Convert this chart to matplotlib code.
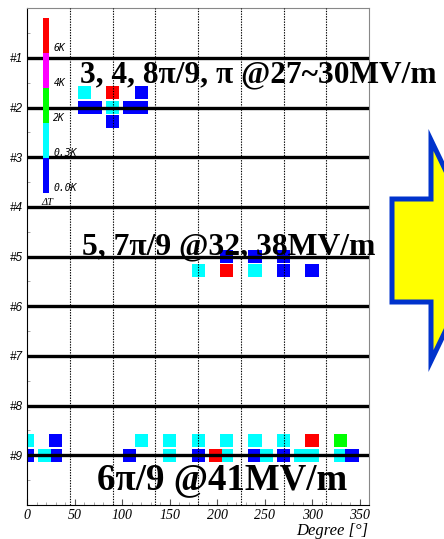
import numpy as np
import matplotlib
matplotlib.use("Agg")
import matplotlib.pyplot as plt
import matplotlib as mpl
from matplotlib.colors import ListedColormap, BoundaryNorm
from matplotlib.patches import Polygon

# mapa de temperatura por cavidad (#1..#9) y angulo
cavidades = ["#1", "#2", "#3", "#4", "#5", "#6", "#7", "#8", "#9"]

# cada sensor: cavidad, angulo [deg], fila (-1 arriba, 0 sobre la linea, 1 abajo), dT [K]
sensor_cav = [2, 2, 2, 2, 2, 2, 2, 2, 2,
              5, 5, 5, 5, 5, 5, 5, 5,
              9, 9, 9, 9, 9, 9, 9, 9, 9, 9,
              9, 9, 9, 9, 9, 9, 9, 9, 9,
              9, 9, 9, 9, 9, 9]
sensor_ang = [60, 90, 120, 60, 72, 90, 108, 120, 90,
              210, 240, 270, 180, 210, 240, 270, 300,
              0, 30, 120, 150, 180, 210, 240, 270, 300, 330,
              0, 30, 150, 180, 210, 240, 270, 300, 330,
              18, 108, 198, 252, 288, 342]
sensor_fila = [-1, -1, -1, 0, 0, 0, 0, 0, 1,
               0, 0, 0, 1, 1, 1, 1, 1,
               -1, -1, -1, -1, -1, -1, -1, -1, -1, -1,
               0, 0, 0, 0, 0, 0, 0, 0, 0,
               0, 0, 0, 0, 0, 0]
sensor_dT = [1.0, 7.0, 0.1, 0.1, 0.1, 1.0, 0.1, 0.1, 0.1,
             0.1, 0.1, 0.1, 1.0, 7.0, 1.0, 0.1, 0.1,
             1.0, 0.1, 1.0, 1.0, 1.0, 1.0, 1.0, 1.0, 7.0, 3.0,
             0.1, 0.1, 1.0, 0.1, 1.0, 0.1, 0.1, 1.0, 1.0,
             1.0, 0.1, 7.0, 1.0, 1.0, 0.1]

limites_dT = [0, 0.3, 2, 4, 6, 8]
etiquetas_dT = ["0.0K", "0.3K", "2K", "4K", "6K"]
colores = ["#0000ff", "#00ffff", "#00ff00", "#ff00ff", "#ff0000"]

textos = ["3, 4, 8π/9, π @27~30MV/m", "5, 7π/9 @32, 38MV/m", "6π/9 @41MV/m"]
textos_x = [55.4, 57.2, 73.3]
textos_y = [1.50, 4.96, 9.69]
textos_size = [22.6, 22.8, 26.6]

W, H = 444, 539
fig = plt.figure(figsize=(W / 100, H / 100), dpi=100)
ax = fig.add_axes([27.3 / W, 1 - 505 / H, (369 - 27.3) / W, (505 - 8.3) / H])

cmap = ListedColormap(colores)
norm = BoundaryNorm(limites_dT, cmap.N)

offs = {-1: -0.3, 0: 0.0, 1: 0.28}
alto = 0.27
for c, a, f, t in zip(sensor_cav, sensor_ang, sensor_fila, sensor_dT):
    ax.bar(a, alto, width=14, bottom=c + offs[f] - alto / 2,
           color=cmap(norm(t)), zorder=1)

for i in range(1, 10):
    ax.axhline(i, color="black", lw=2.4, zorder=3)
for a in range(45, 360, 45):
    ax.axvline(a, color="black", lw=0.8, ls=(0, (1.2, 1.2)), zorder=3)

ax.set_xlim(0, 360)
ax.set_ylim(10, 0)

ax.set_xticks(range(0, 351, 50))
ax.set_xticks(range(0, 361, 10), minor=True)
ax.set_xticklabels([str(v) for v in range(0, 351, 50)],
                   fontfamily="Liberation Serif", style="italic", fontsize=10)
ax.tick_params(axis="x", which="major", direction="in", length=4, width=0.8,
               color="#555555", pad=3)
ax.tick_params(axis="x", which="minor", direction="in", length=2, width=0.6,
               color="#999999")

ax.set_yticks(range(1, 10))
ax.set_yticklabels(cavidades, fontfamily="Liberation Sans", style="italic",
                   fontsize=8.5)
ax.set_yticks(np.arange(0.5, 10, 1), minor=True)
ax.tick_params(axis="y", which="major", length=0, pad=3)
ax.tick_params(axis="y", which="minor", direction="in", length=2.5,
               width=0.6, color="#999999")

ax.spines["left"].set_color("black")
ax.spines["bottom"].set_color("black")
ax.spines["top"].set_color("#888888")
ax.spines["right"].set_color("#888888")
for s in ax.spines.values():
    s.set_linewidth(0.8)

for txt, x, y, fs in zip(textos, textos_x, textos_y, textos_size):
    ax.text(x, y, txt, fontfamily="Liberation Serif", fontweight="bold",
            fontsize=fs, va="baseline", ha="left", clip_on=False, zorder=5)

fig.text(368 / W, 1 - 535 / H, "Degree [°]", fontfamily="Liberation Serif",
         style="italic", fontsize=12, ha="right", va="baseline")

# barra de colores
cax = fig.add_axes([43.3 / W, 1 - 192.7 / H, 6 / W, 175 / H])
cb = fig.colorbar(mpl.cm.ScalarMappable(norm=norm, cmap=cmap), cax=cax,
                  ticks=limites_dT[:-1], spacing="uniform")
cb.outline.set_visible(False)
cax.minorticks_off()
cax.tick_params(length=0, pad=3)
cax.set_yticklabels(etiquetas_dT, fontfamily="DejaVu Sans Mono",
                    style="italic", fontsize=7)
for t in cax.get_yticklabels():
    t.set_va("bottom")
fig.text(41 / W, 1 - 205 / H, "ΔT", fontfamily="Liberation Serif",
         style="italic", fontsize=7.5, ha="left", va="baseline")

# flecha
pts = [(392, 199), (431, 199), (431, 140), (484, 250.5), (431, 361),
       (431, 302), (392, 302)]
flecha = Polygon([(x / W, 1 - y / H) for x, y in pts], closed=True,
                 facecolor="#ffff00", edgecolor="#0033cc", lw=3.6,
                 transform=fig.transFigure, clip_on=False)
fig.add_artist(flecha)

fig.savefig("out.png", dpi=100)
